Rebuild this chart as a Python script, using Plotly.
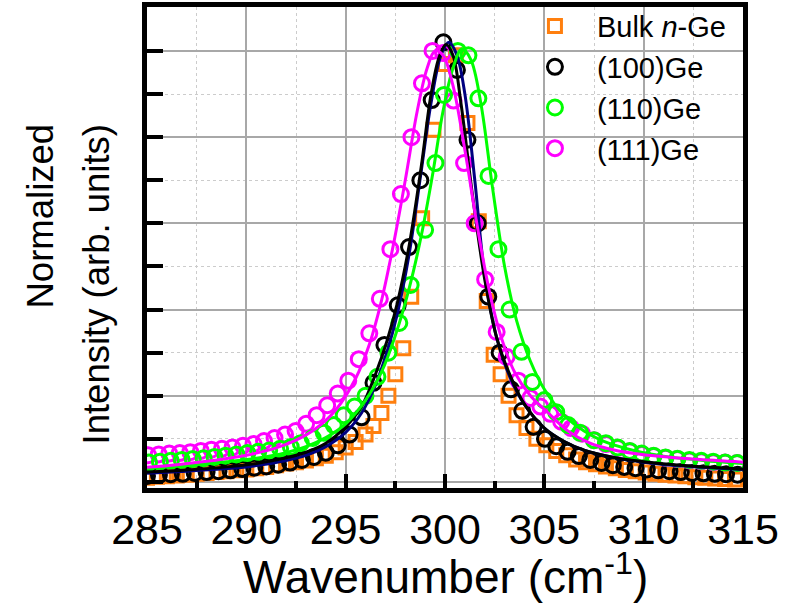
import plotly.graph_objects as go

# ---------------- data ----------------
bulk_x = [285.0, 285.5, 286.0, 286.5, 287.0, 287.5, 288.0, 288.5, 289.0, 289.5, 290.0, 290.5,
          291.0, 291.5, 292.0, 292.5, 293.0, 293.5, 294.0, 294.5, 295.0, 295.5, 296.0, 296.4,
          296.8, 297.15, 297.5, 297.9, 298.3, 298.85, 299.42, 300.0, 300.55, 301.13, 301.7, 302.1,
          302.45, 302.8, 303.2, 303.6, 304.1, 304.6, 305.1, 305.6, 306.1, 306.6, 307.1, 307.6,
          308.1, 308.6, 309.1, 309.6, 310.1, 310.6, 311.1, 311.6, 312.1, 312.6, 313.1, 313.6,
          314.1, 314.6]
bulk_y = [0.010, 0.012, 0.013, 0.015, 0.017, 0.019, 0.021, 0.023, 0.025, 0.027, 0.029, 0.032,
          0.035, 0.039, 0.043, 0.046, 0.050, 0.055, 0.061, 0.069, 0.080, 0.093, 0.110, 0.130,
          0.160, 0.200, 0.250, 0.310, 0.430, 0.612, 0.817, 0.970, 0.990, 0.833, 0.605, 0.420,
          0.295, 0.250, 0.200, 0.155, 0.125, 0.100, 0.085, 0.072, 0.062, 0.052, 0.046, 0.041,
          0.036, 0.032, 0.028, 0.025, 0.022, 0.019, 0.017, 0.015, 0.013, 0.011, 0.010, 0.008,
          0.007, 0.006]

ge100_x = [285.0, 285.6, 286.2, 286.8, 287.4, 288.0, 288.6, 289.2, 289.8, 290.4, 291.0, 291.6,
           292.2, 292.8, 293.4, 294.0, 294.6, 295.2, 295.8, 296.4, 296.95, 297.62, 298.19, 298.76,
           299.33, 299.92, 300.6, 301.13, 301.65, 302.18, 302.75, 303.32, 303.89, 304.46, 305.03,
           305.6, 306.17, 306.74, 307.31, 307.88, 308.45, 309.02, 309.59, 310.16, 310.73, 311.3,
           311.87, 312.44, 313.01, 313.58, 314.15, 314.72]
ge100_y = [0.014, 0.016, 0.018, 0.019, 0.021, 0.023, 0.025, 0.027, 0.030, 0.033, 0.036, 0.040,
           0.045, 0.051, 0.058, 0.068, 0.085, 0.110, 0.150, 0.230, 0.318, 0.410, 0.545, 0.700,
           0.886, 1.020, 0.956, 0.794, 0.600, 0.430, 0.300, 0.215, 0.165, 0.128, 0.100,
           0.083, 0.070, 0.060, 0.051, 0.044, 0.039, 0.035, 0.032, 0.029, 0.027, 0.025,
           0.023, 0.021, 0.020, 0.019, 0.018, 0.017]

ge110_x = [285.1, 285.65, 286.2, 286.75, 287.3, 287.85, 288.4, 288.95, 289.5, 290.05, 290.6,
           291.15, 291.7, 292.24, 292.74, 293.34, 293.9, 294.4, 294.9, 295.45, 296.0, 296.6,
           297.15, 297.7, 298.27, 299.0, 299.52, 299.95, 300.65, 301.18, 301.68, 302.19, 302.69,
           303.25, 303.85, 304.4, 305.0, 305.6, 306.2, 306.8, 307.5, 308.1, 308.7, 309.3, 309.9,
           310.5, 311.1, 311.7, 312.3, 312.9, 313.5, 314.1, 314.7]
ge110_y = [0.045, 0.047, 0.049, 0.051, 0.053, 0.055, 0.058, 0.061, 0.064, 0.067, 0.070,
           0.073, 0.077, 0.081, 0.090, 0.102, 0.114, 0.132, 0.155, 0.175, 0.200, 0.244,
           0.300, 0.369, 0.457, 0.585, 0.740, 0.898, 1.000, 0.990, 0.890, 0.710, 0.540,
           0.400, 0.302, 0.232, 0.190, 0.162, 0.132, 0.114, 0.097, 0.090, 0.080, 0.072, 0.066,
           0.061, 0.057, 0.054, 0.051, 0.049, 0.047, 0.045, 0.044]

ge111_x = [285.06, 285.59, 286.12, 286.65, 287.18, 287.71, 288.24, 288.77, 289.3, 289.83, 290.36,
           290.89, 291.42, 291.95, 292.48, 293.01, 293.54, 294.07, 294.6, 295.13, 295.66, 296.19,
           296.72, 297.25, 297.78, 298.31, 298.84, 299.37, 299.9, 300.43, 300.96, 301.49, 302.02,
           302.6, 303.1, 303.7, 304.3, 304.8, 305.3, 305.85, 306.35, 306.9, 307.5, 308.1,
           308.7, 309.3, 309.9, 310.5, 311.1, 311.7, 312.3, 312.9, 313.5, 314.1, 314.7]
ge111_y = [0.062, 0.064, 0.066, 0.067, 0.069, 0.072, 0.075, 0.077, 0.080, 0.084, 0.088,
           0.095, 0.102, 0.110, 0.118, 0.135, 0.155, 0.178, 0.205, 0.235, 0.285, 0.345,
           0.425, 0.540, 0.668, 0.800, 0.925, 1.000, 0.995, 0.885, 0.740, 0.600, 0.470,
           0.348, 0.290, 0.235, 0.195, 0.175, 0.158, 0.140, 0.125, 0.112, 0.097, 0.088,
           0.079, 0.071, 0.065, 0.060, 0.056, 0.053, 0.050, 0.048, 0.046, 0.045, 0.044]

# fitted curves
fitbulk_x = [285.0, 287.0, 289.0, 290.5, 292.0, 293.0, 294.0, 295.0, 295.8, 296.5, 297.1, 297.6,
             298.2, 298.8, 299.3, 299.8, 300.2, 300.6, 301.0, 301.5, 302.0, 302.6, 303.3, 304.0,
             305.0, 306.0, 307.0, 308.5, 310.0, 312.0, 315.0]
fitbulk_y = [0.020, 0.025, 0.031, 0.038, 0.050, 0.062, 0.082, 0.115, 0.160, 0.225, 0.305, 0.390,
             0.530, 0.720, 0.880, 0.990, 1.020, 0.990, 0.900, 0.700, 0.480, 0.335, 0.240, 0.180,
             0.125, 0.094, 0.074, 0.057, 0.046, 0.037, 0.029]
fit100_x = [285.0, 287.0, 289.0, 290.5, 292.0, 293.0, 294.0, 295.0, 295.8, 296.5, 297.1, 297.6,
            298.2, 298.8, 299.3, 299.7, 300.05, 300.4, 300.8, 301.4, 302.0, 302.6, 303.3, 304.0,
            305.0, 306.0, 307.0, 308.5, 310.0, 312.0, 315.0]
fit100_y = [0.023, 0.028, 0.035, 0.043, 0.056, 0.069, 0.090, 0.128, 0.175, 0.250, 0.330, 0.415,
            0.550, 0.730, 0.900, 0.985, 1.015, 0.990, 0.880, 0.660, 0.470, 0.335, 0.245, 0.180,
            0.125, 0.094, 0.074, 0.057, 0.047, 0.038, 0.030]
fit110_x = [285.0, 287.0, 289.0, 290.5, 292.0, 293.0, 294.0, 295.0, 296.0, 296.8, 297.5, 298.2,
            298.8, 299.4, 299.9, 300.4, 300.85, 301.3, 301.8, 302.4, 303.0, 303.6, 304.3, 305.0,
            306.0, 307.0, 308.0, 309.5, 311.0, 313.0, 315.0]
fit110_y = [0.033, 0.039, 0.047, 0.055, 0.068, 0.082, 0.103, 0.135, 0.190, 0.255, 0.340, 0.450,
            0.570, 0.720, 0.860, 0.960, 1.005, 0.980, 0.880, 0.680, 0.500, 0.375, 0.280, 0.215,
            0.155, 0.118, 0.094, 0.073, 0.060, 0.050, 0.043]
fit111_x = [285.0, 286.5, 288.0, 289.5, 290.5, 291.5, 292.5, 293.5, 294.5, 295.5, 296.2, 296.8,
            297.4, 298.0, 298.6, 299.1, 299.5, 299.9, 300.4, 301.0, 301.6, 302.2, 302.8, 303.5,
            304.3, 305.2, 306.2, 307.3, 308.5, 310.0, 312.5, 315.0]
fit111_y = [0.034, 0.040, 0.048, 0.058, 0.067, 0.079, 0.097, 0.124, 0.167, 0.240, 0.320, 0.420,
            0.550, 0.700, 0.860, 0.960, 1.000, 0.990, 0.920, 0.770, 0.600, 0.450, 0.340, 0.255,
            0.200, 0.160, 0.118, 0.090, 0.074, 0.063, 0.053, 0.046]

labels = ["Bulk <i>n</i>-Ge", "(100)Ge", "(110)Ge", "(111)Ge"]
ORANGE, BLACK, GREEN, MAGENTA, NAVY = "#ff7f0e", "#000000", "#00ff00", "#ff00ff", "#000080"

FONT = "Liberation Sans, Arial, sans-serif"

# plot-area geometry in pixels (used for paper-positioned titles)
W, H = 792, 609
ML, MR, MT, MB = 147, 49, 7, 121
PW, PH = W - ML - MR, H - MT - MB

fig = go.Figure()

# measured data
fig.add_trace(go.Scatter(x=bulk_x, y=bulk_y, mode="markers", name=labels[0], legendrank=1,
                         marker=dict(symbol="square-open", size=13, color=ORANGE,
                                     line=dict(width=3, color=ORANGE))))
fig.add_trace(go.Scatter(x=ge100_x, y=ge100_y, mode="markers", name=labels[1], legendrank=2,
                         marker=dict(symbol="circle-open", size=15, color=BLACK,
                                     line=dict(width=3, color=BLACK))))
fig.add_trace(go.Scatter(x=ge111_x, y=ge111_y, mode="markers", name=labels[3], legendrank=4,
                         marker=dict(symbol="circle-open", size=15, color=MAGENTA,
                                     line=dict(width=3, color=MAGENTA))))
fig.add_trace(go.Scatter(x=ge110_x, y=ge110_y, mode="markers", name=labels[2], legendrank=3,
                         marker=dict(symbol="circle-open", size=15, color=GREEN,
                                     line=dict(width=3, color=GREEN))))

# fits
for fx, fy, col in [(fitbulk_x, fitbulk_y, NAVY), (fit100_x, fit100_y, BLACK),
                    (fit110_x, fit110_y, GREEN), (fit111_x, fit111_y, MAGENTA)]:
    fig.add_trace(go.Scatter(x=fx, y=fy, mode="lines", showlegend=False,
                             line=dict(color=col, width=3, shape="spline", smoothing=1.0),
                             hoverinfo="skip"))

# two-line y-axis title, lines aligned at their upper end
for txt, cx in [("Normalized", 40), ("Intensity (arb. units)", 96)]:
    fig.add_annotation(text=txt, textangle=-90, xref="paper", yref="paper",
                       x=(cx - ML) / PW, y=(MT + PH - 122) / PH,
                       xanchor="center", yanchor="top", showarrow=False,
                       font=dict(size=36.5, family=FONT, color="black"))

# x-axis title
fig.add_annotation(text="Wavenumber (cm<sup>-1</sup>)", xref="paper", yref="paper",
                   x=0.5, y=(MT + PH - 574) / PH, xanchor="center", yanchor="middle",
                   showarrow=False, font=dict(size=46, family=FONT, color="black"))

fig.update_layout(
    width=W, height=H,
    margin=dict(l=ML, r=MR, t=MT, b=MB, autoexpand=False),
    paper_bgcolor="white", plot_bgcolor="white",
    font=dict(family=FONT, color="black"),
    showlegend=True,
    legend=dict(x=0.614, y=1.013, xanchor="left", yanchor="top",
                bgcolor="rgba(0,0,0,0)", borderwidth=0,
                font=dict(size=29, family=FONT), itemsizing="trace",
                tracegroupgap=0, itemwidth=74),
)

fig.update_xaxes(
    range=[285, 315], dtick=5, tick0=285,
    showline=True, linewidth=4.5, linecolor="black", mirror=True,
    ticks="inside", ticklen=14, tickwidth=4, tickcolor="black",
    showgrid=True, gridcolor="#a8a8a8", gridwidth=1.5,
    minor=dict(dtick=2.5, ticks="inside", ticklen=7, tickwidth=4, tickcolor="black",
               showgrid=True, gridcolor="#cccccc", griddash="dot", gridwidth=1),
    tickfont=dict(size=43, family=FONT),
    zeroline=False,
)
fig.update_yaxes(
    range=[-0.014, 1.102], dtick=0.2, tick0=0,
    showline=True, linewidth=4.5, linecolor="black", mirror=True,
    ticks="inside", ticklen=16, tickwidth=4, tickcolor="black",
    showticklabels=False,
    showgrid=True, gridcolor="#a8a8a8", gridwidth=1.5,
    minor=dict(dtick=0.1, ticks="inside", ticklen=16, tickwidth=4, tickcolor="black",
               showgrid=True, gridcolor="#cccccc", griddash="dot", gridwidth=1),
    zeroline=False,
)

fig.write_html("out.html")
